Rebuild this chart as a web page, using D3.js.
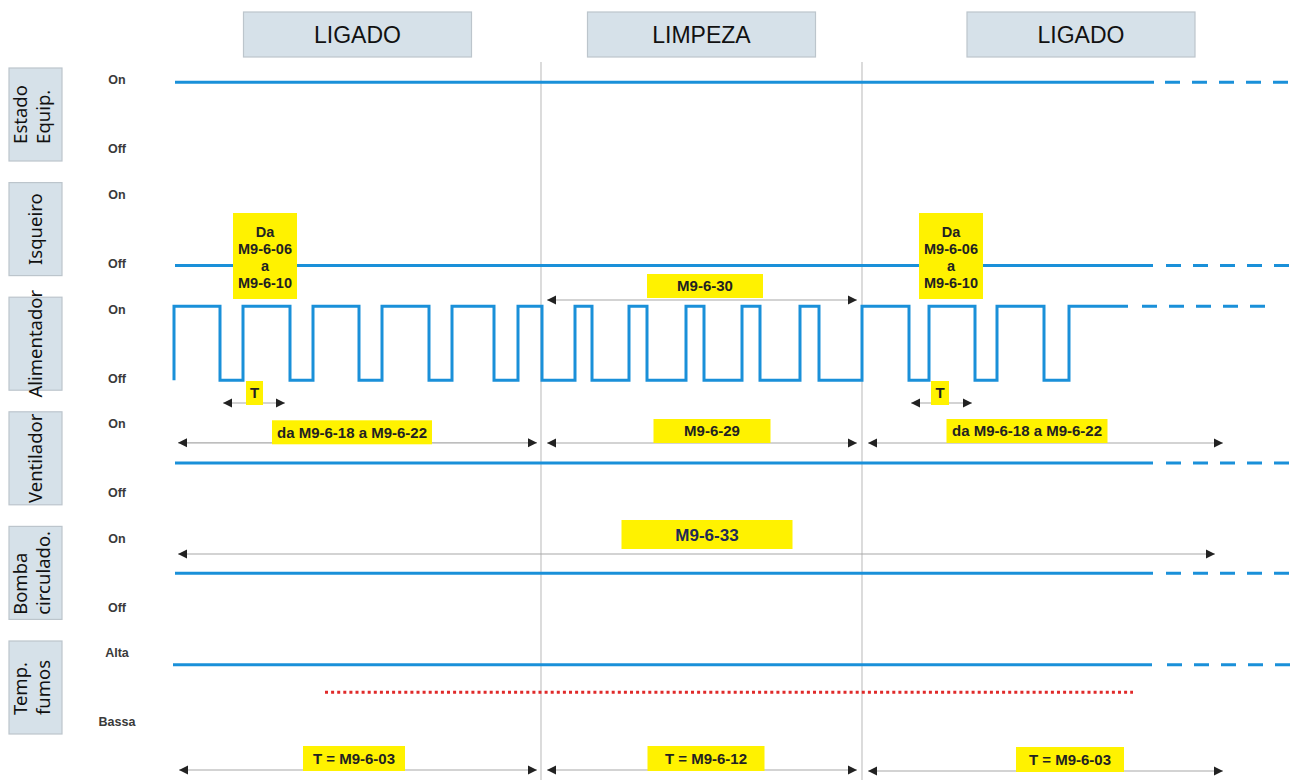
<!DOCTYPE html>
<html>
<head>
<meta charset="utf-8">
<script src="https://cdn.jsdelivr.net/npm/d3@7"></script>
<style>
body { margin: 0; background: #fff; }
svg { display: block; }
</style>
</head>
<body>
<script>
let w = 1293, h = 780;

// fasi di funzionamento
let phases = ["LIGADO", "LIMPEZA", "LIGADO"];
let phaseBounds = [0, 367, 688, 1126];

// righe del diagramma
let rowLabels = [["Estado", "Equip."], ["Isqueiro"], ["Alimentador"], ["Ventilador"], ["Bomba", "circulado."], ["Temp.", "fumos"]];
let highLabels = ["On", "On", "On", "On", "On", "Alta"];
let lowLabels = ["Off", "Off", "Off", "Off", "Off", "Bassa"];

// livelli dei segnali [tempo, livello]
let estadoSteps = [[1, 0.93], [980, 0.93]];
let isqueiroSteps = [[1, 0], [979, 0]];
let alimEdges = [0, 46, 69, 116, 139, 185, 208, 255, 278, 320, 344, 368, 401, 418, 455, 473, 512, 530, 568, 586, 626, 645, 688, 735, 755, 801, 823, 870, 895];
let alimEnd = 954;
let ventSteps = [[1, 0.43], [979, 0.43]];
let bombaSteps = [[1, 0.49], [979, 0.49]];
let tempSteps = [[-1, 0.8], [978, 0.8]];
let tempLimit = [[151, 0.43], [959, 0.43]];

// tratti tratteggiati (continuazione)
let dashFrom = [991, 992, 968, 992, 992, 993];
let dashTo = [1119, 1119, 1094, 1119, 1119, 1119];
let dashLevel = [0.93, 0, 1, 0.43, 0.49, 0.8];

// quote con frecce
let spans = [
  { row: 2, from: 49, to: 111, at: 80.5, text: "T" },
  { row: 2, from: 737, to: 798, at: 766, text: "T" },
  { row: 2, from: 373, to: 683, at: 531, text: "M9-6-30" },
  { row: 3, from: 4, to: 363, at: 178, text: "da M9-6-18 a M9-6-22" },
  { row: 3, from: 373, to: 683, at: 538, text: "M9-6-29" },
  { row: 3, from: 694, to: 1049, at: 853, text: "da M9-6-18 a M9-6-22" },
  { row: 4, from: 4, to: 1041, at: 533, text: "M9-6-33" },
  { row: 5, from: 5, to: 363, at: 180, text: "T = M9-6-03" },
  { row: 5, from: 373, to: 683, at: 532, text: "T = M9-6-12" },
  { row: 5, from: 694, to: 1049, at: 896, text: "T = M9-6-03" }
];
// parametri accensione isqueiro
let igniterNotes = [91, 777];
let igniterText = ["Da", "M9-6-06", "a", "M9-6-10"];

// layout delle quote: [dy freccia, larghezza box, altezza box, alzata box]
let spanLayout = [
  [105.8, 17, 24, 22], [105.8, 18, 24, 22], [2.8, 116, 24, 26],
  [31, 160, 24, 22.5], [31.2, 117, 24, 24], [31.2, 161, 24, 24],
  [27.6, 171, 29, 34],
  [129, 102, 25, 24], [129, 117, 25, 24], [130, 108, 25, 24]
];

let blue = "#1a90d9";

let x = d3.scaleLinear().domain([0, 1119]).range([174, 1293]);
let rowTop = d3.scaleLinear().domain([0, 5]).range([68, 641]);
let lvl = d3.scaleLinear().domain([0, 1]).range([83, 9]);
function yOf(row, v) { return rowTop(row) + lvl(v); }

let svg = d3.select("body").append("svg").attr("width", w).attr("height", h);

// linee di separazione fasi
svg.selectAll(".sep").data(phaseBounds.slice(1, 3)).enter().append("line")
  .attr("x1", d => x(d)).attr("x2", d => x(d))
  .attr("y1", 62).attr("y2", h)
  .attr("stroke", "#c4c4c4").attr("stroke-width", 1.2);

// intestazioni
let heads = svg.selectAll(".head").data(phases).enter().append("g");
heads.append("rect")
  .attr("x", (d, i) => x((phaseBounds[i] + phaseBounds[i + 1]) / 2) - 114)
  .attr("y", 12).attr("width", 228).attr("height", 45)
  .attr("fill", "#d6e1e9").attr("stroke", "#bcc5cc").attr("stroke-width", 1.2);
heads.append("text")
  .text(d => d)
  .attr("x", (d, i) => x((phaseBounds[i] + phaseBounds[i + 1]) / 2))
  .attr("y", 43)
  .attr("text-anchor", "middle")
  .attr("font-family", "Liberation Sans, Arial, sans-serif")
  .attr("font-size", "23px")
  .attr("fill", "#111");

// etichette righe
let rg = svg.selectAll(".rowlab").data(rowLabels).enter().append("g");
rg.append("rect")
  .attr("x", 9).attr("y", (d, i) => rowTop(i))
  .attr("width", 53).attr("height", 93)
  .attr("fill", "#d6e1e9").attr("stroke", "#bcc5cc").attr("stroke-width", 1.2);
rg.each(function (d, i) {
  let g = d3.select(this).append("g")
    .attr("transform", "translate(35.5," + (rowTop(i) + 46.5) + ") rotate(-90)");
  let texts = g.selectAll("text").data(d).enter().append("text")
    .text(s => s)
    .attr("y", (s, j) => d.length == 1 ? 6.5 : (j == 0 ? -8.5 : 14.5))
    .attr("font-family", "Noto Sans, sans-serif")
    .attr("font-size", "18.5px")
    .attr("fill", "#111");
  let maxLen = 0;
  texts.each(function () { maxLen = Math.max(maxLen, this.getComputedTextLength()); });
  texts.attr("x", -maxLen / 2);
});

// etichette livelli
function levelLabels(arr, dy) {
  svg.selectAll(null).data(arr).enter().append("text")
    .text(d => d)
    .attr("x", 117)
    .attr("y", (d, i) => rowTop(i) + dy)
    .attr("dy", "0.35em")
    .attr("text-anchor", "middle")
    .attr("font-family", "Liberation Sans, Arial, sans-serif")
    .attr("font-weight", "bold")
    .attr("font-size", "12.5px")
    .attr("fill", "#3a3a3a");
}
levelLabels(highLabels, 12);
levelLabels(lowLabels, 81);

// segnali
let alimSteps = [[alimEdges[0], 0]];
alimEdges.forEach((t, i) => alimSteps.push([t, i % 2 == 0 ? 1 : 0]));
alimSteps.push([alimEnd, 1]);

let signals = [estadoSteps, isqueiroSteps, alimSteps, ventSteps, bombaSteps, tempSteps];

signals.forEach((steps, i) => {
  let line = d3.line().x(d => x(d[0])).y(d => yOf(i, d[1])).curve(d3.curveStepAfter);
  svg.append("path").attr("d", line(steps))
    .attr("fill", "none").attr("stroke", blue).attr("stroke-width", 3);
  svg.append("line")
    .attr("x1", x(dashFrom[i])).attr("x2", x(dashTo[i]))
    .attr("y1", yOf(i, dashLevel[i])).attr("y2", yOf(i, dashLevel[i]))
    .attr("stroke", blue).attr("stroke-width", 3)
    .attr("stroke-dasharray", "15,12");
});

// soglia temperatura fumi
svg.append("path")
  .attr("d", d3.line().x(d => x(d[0])).y(d => yOf(5, d[1]))(tempLimit))
  .attr("fill", "none").attr("stroke", "#e02a2a").attr("stroke-width", 3)
  .attr("stroke-dasharray", "3,3.1");

// frecce di quota
let ag = svg.selectAll(".span").data(spans).enter().append("g");
ag.each(function (d, i) {
  let g = d3.select(this);
  let lay = spanLayout[i];
  let yy = rowTop(d.row) + lay[0];
  let x0 = x(d.from), x1 = x(d.to);
  g.append("line").attr("x1", x0).attr("x2", x1).attr("y1", yy).attr("y2", yy)
    .attr("stroke", "#a8a8a8").attr("stroke-width", 1.2);
  g.append("path")
    .attr("d", "M" + x0 + "," + yy + "l9,-4.5v9z M" + x1 + "," + yy + "l-9,-4.5v9z")
    .attr("fill", "#222");
  g.append("rect")
    .attr("x", x(d.at) - lay[1] / 2).attr("y", yy - lay[3])
    .attr("width", lay[1]).attr("height", lay[2])
    .attr("fill", "#fff200");
  g.append("text")
    .text(d.text)
    .attr("x", x(d.at)).attr("y", yy - lay[3] + lay[2] / 2)
    .attr("dy", "0.36em")
    .attr("text-anchor", "middle")
    .attr("font-family", "Liberation Sans, Arial, sans-serif")
    .attr("font-weight", "bold")
    .attr("font-size", d.text == "M9-6-33" ? "17px" : "15px")
    .attr("fill", d.text == "M9-6-33" ? "#1f2a55" : "#222");
});

// note isqueiro
let ig = svg.selectAll(".ign").data(igniterNotes).enter().append("g");
ig.append("rect")
  .attr("x", d => x(d) - 32).attr("y", 213)
  .attr("width", 64).attr("height", 86)
  .attr("fill", "#fff200");
ig.each(function (d) {
  d3.select(this).selectAll("text").data(igniterText).enter().append("text")
    .text(s => s)
    .attr("x", x(d)).attr("y", (s, j) => 232 + j * 17)
    .attr("dy", "0.36em")
    .attr("text-anchor", "middle")
    .attr("font-family", "Liberation Sans, Arial, sans-serif")
    .attr("font-weight", "bold")
    .attr("font-size", "14.5px")
    .attr("fill", "#222");
});
</script>
</body>
</html>
